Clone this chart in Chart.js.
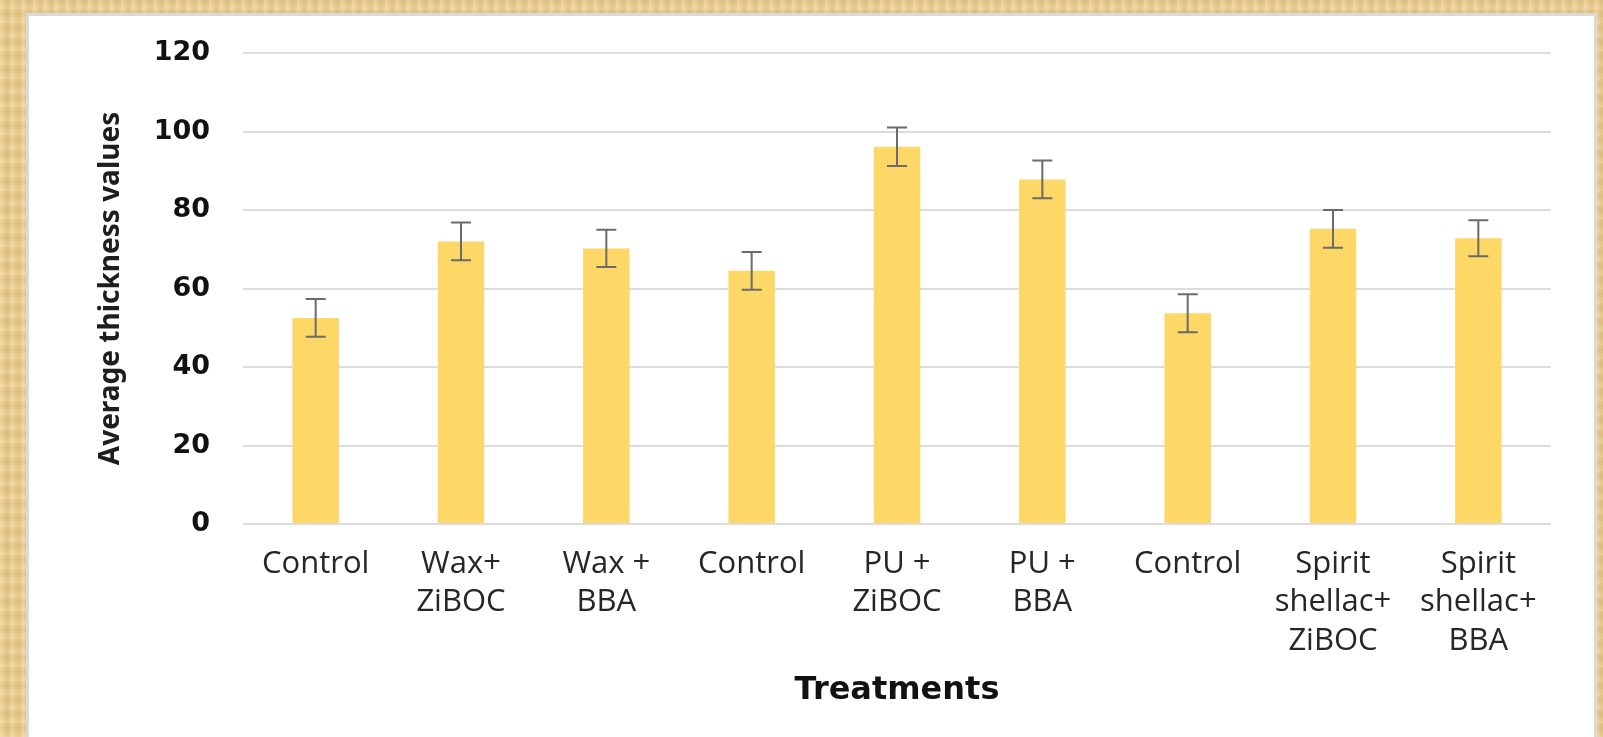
<!DOCTYPE html>
<html>
<head>
<meta charset="utf-8">
<script src="https://cdn.jsdelivr.net/npm/chart.js@4.4.1/dist/chart.umd.min.js"></script>
<style>
  html, body { margin: 0; padding: 0; width: 1603px; height: 737px; overflow: hidden; }
  body {
    background-color: #E8CC90;
    background-image:
      repeating-linear-gradient(90deg, rgba(255,242,205,0.30) 0px, rgba(255,242,205,0) 4px, rgba(175,135,65,0.14) 7px, rgba(0,0,0,0) 11px),
      repeating-linear-gradient(0deg, rgba(255,246,215,0.22) 0px, rgba(0,0,0,0) 5px, rgba(165,125,55,0.12) 9px, rgba(0,0,0,0) 14px);
    position: relative;
  }
  #panel {
    position: absolute; left: 26px; top: 13px; width: 1571px; height: 740px;
    box-sizing: border-box; border: 3px solid #DADADA; border-bottom: none; background: #FFFFFF;
  }
  #wrap { position: absolute; left: 0; top: 0; width: 1603px; height: 737px; }
</style>
</head>
<body>
<div id="panel"></div>
<div id="wrap"><canvas id="chart" width="1603" height="737"></canvas></div>
<script>
const categories = [
  ["Control"],
  ["Wax+", "ZiBOC"],
  ["Wax +", "BBA"],
  ["Control"],
  ["PU +", "ZiBOC"],
  ["PU +", "BBA"],
  ["Control"],
  ["Spirit", "shellac+", "ZiBOC"],
  ["Spirit", "shellac+", "BBA"]
];
const meanValues = [52.5, 72.0, 70.2, 64.5, 96.1, 87.8, 53.7, 75.2, 72.8];
const errorValues = [4.8, 4.8, 4.75, 4.8, 4.9, 4.8, 4.85, 4.8, 4.6];
const yTicks = [0, 20, 40, 60, 80, 100, 120];

const errorBarPlugin = {
  id: 'errorBars',
  afterDatasetsDraw(chart) {
    const ctx = chart.ctx;
    const meta = chart.getDatasetMeta(0);
    const yScale = chart.scales.y;
    ctx.save();
    ctx.strokeStyle = '#6B6B6B';
    ctx.lineWidth = 2;
    meta.data.forEach((bar, i) => {
      const x = bar.x;
      const yTop = yScale.getPixelForValue(meanValues[i] + errorValues[i]);
      const yBot = yScale.getPixelForValue(meanValues[i] - errorValues[i]);
      const cap = 10;
      ctx.beginPath();
      ctx.moveTo(x, yTop); ctx.lineTo(x, yBot);
      ctx.moveTo(x - cap, yTop); ctx.lineTo(x + cap, yTop);
      ctx.moveTo(x - cap, yBot); ctx.lineTo(x + cap, yBot);
      ctx.stroke();
    });
    ctx.restore();
  }
};

new Chart(document.getElementById('chart'), {
  type: 'bar',
  data: {
    labels: categories,
    datasets: [{
      data: meanValues,
      backgroundColor: '#FDD866',
      borderWidth: 0,
      barPercentage: 0.32,
      categoryPercentage: 1.0
    }]
  },
  options: {
    responsive: false,
    animation: false,
    devicePixelRatio: 1,
    layout: { padding: { left: 0, top: 53, right: 52, bottom: 0 } },
    plugins: {
      legend: { display: false },
      tooltip: { enabled: false },
      title: { display: false }
    },
    scales: {
      x: {
        grid: { display: false, drawTicks: false },
        border: { display: false },
        ticks: {
          color: '#262626',
          font: { family: 'Open Sans', size: 31, lineHeight: 1.24 },
          padding: 21,
          maxRotation: 0,
          autoSkip: false
        },
        title: {
          display: true,
          text: 'Treatments',
          color: '#111111',
          font: { family: 'DejaVu Sans', size: 32, weight: 'bold', lineHeight: 1.2 },
          padding: { top: 0, bottom: 27 }
        },
        afterFit(scale) { scale.height = 213; }
      },
      y: {
        min: 0,
        max: 120,
        afterBuildTicks(scale) { scale.ticks = yTicks.map(v => ({ value: v })); },
        grid: { color: '#DCDCDC', lineWidth: 2, drawTicks: false },
        border: { display: false },
        ticks: {
          color: '#111111',
          font: { family: 'DejaVu Sans', size: 27, weight: 'bold' },
          padding: 33
        },
        title: {
          display: true,
          text: 'Average thickness values',
          color: '#1E1E1E',
          font: { family: 'Noto Sans', size: 28, weight: 'bold', lineHeight: 1.2 },
          padding: { top: 94, bottom: 0 }
        },
        afterFit(scale) { scale.width = 243; }
      }
    }
  },
  plugins: [errorBarPlugin]
});
</script>
</body>
</html>
